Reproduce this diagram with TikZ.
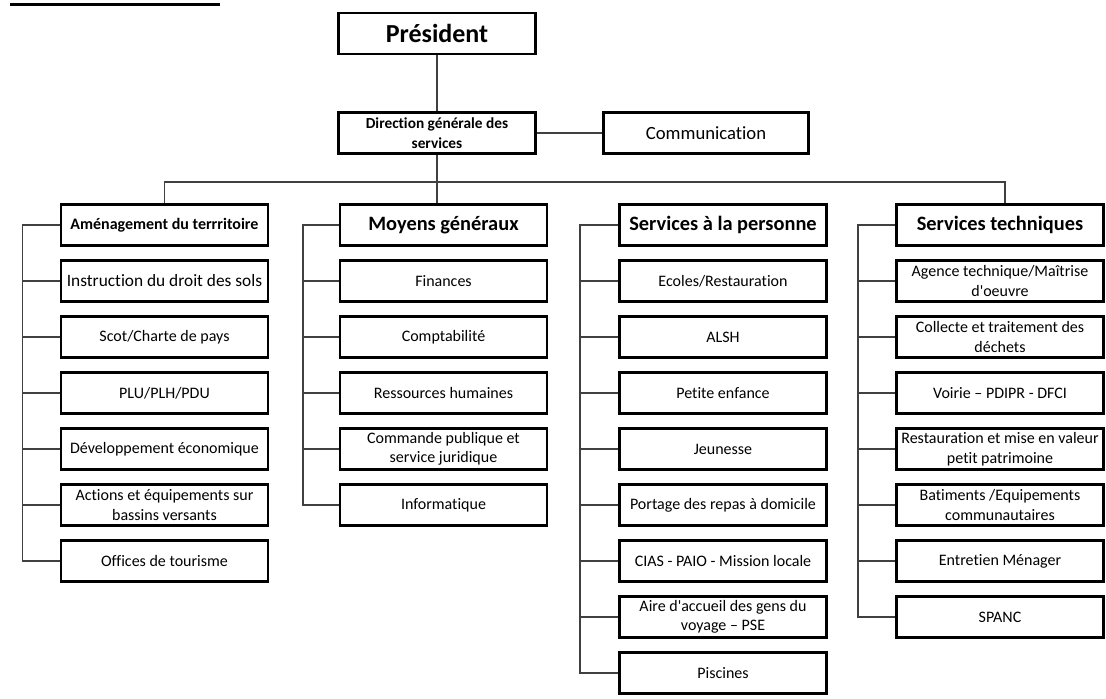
\documentclass[tikz,border=0pt]{standalone}
\usepackage{fontspec}
\setmainfont{Carlito}[Ligatures=NoCommon]
\usepackage{tikz}

\begin{document}
\begin{tikzpicture}[x=0.75pt,y=0.75pt,yscale=-1,xscale=1,
	box/.style={draw, line width=1.8pt, minimum width=155pt, minimum height=30.5pt, inner sep=1pt, align=center, font=\fontsize{12}{14.6}\selectfont},
	headbox/.style={box, font=\fontsize{15.3}{18}\selectfont\bfseries},
	link/.style={draw=black!75, line width=0.8pt}]
	\useasboundingbox (0,0) rectangle (1106,699);
	
	%Straight Lines: title underline (title cut off above)
	\draw [line width=1.8pt] (10,4.5) -- (220,4.5) ;
	
	% Text Node
	\node (pres) at (437,33.5) [box, minimum width=148pt, font=\fontsize{19.5}{23}\selectfont\bfseries] {Président};
	% Text Node
	\node (dgs) at (437,133) [box, minimum width=148pt, font=\fontsize{11.5}{15}\selectfont\bfseries] {Direction générale des\\services};
	% Text Node
	\node (comm) at (706,133) [box, minimum width=154pt, font=\fontsize{14}{17}\selectfont] {Communication};
	
	% Text Node: Aménagement du territoire
	\node (amenag) at (164.5,225) [headbox, font=\fontsize{12}{14.6}\selectfont\bfseries] {Aménagement du terrritoire};
	\node (droitsols) at (164.5,281) [box, font=\fontsize{13}{15.6}\selectfont] {Instruction du droit des sols};
	\node (scot) at (164.5,337) [box] {Scot/Charte de pays};
	\node (plu) at (164.5,393) [box] {PLU/PLH/PDU};
	\node (deveco) at (164.5,449) [box] {Développement économique};
	\node (bassins) at (164.5,505) [box] {Actions et équipements sur\\bassins versants};
	\node (tourisme) at (164.5,561) [box] {Offices de tourisme};
	
	% Text Node: Moyens généraux
	\node (moyens) at (443.5,225) [headbox] {Moyens généraux};
	\node (finances) at (443.5,281) [box] {Finances};
	\node (compta) at (443.5,337) [box] {Comptabilité};
	\node (rh) at (443.5,393) [box] {Ressources humaines};
	\node (commande) at (443.5,449) [box] {Commande publique et\\service juridique};
	\node (info) at (443.5,505) [box] {Informatique};
	
	% Text Node: Services à la personne
	\node (personne) at (723,225) [headbox] {Services à la personne};
	\node (ecoles) at (723,281) [box] {Ecoles/Restauration};
	\node (alsh) at (723,337) [box] {ALSH};
	\node (enfance) at (723,393) [box] {Petite enfance};
	\node (jeunesse) at (723,449) [box] {Jeunesse};
	\node (portage) at (723,505) [box] {Portage des repas à domicile};
	\node (cias) at (723,561) [box] {CIAS - PAIO - Mission locale};
	\node (aire) at (723,617) [box] {Aire d\textquotesingle accueil des gens du\\voyage – PSE};
	\node (piscines) at (723,673) [box] {Piscines};
	
	% Text Node: Services techniques
	\node (techniques) at (1000,225) [headbox] {Services techniques};
	\node (agence) at (1000,281) [box] {Agence technique/Maîtrise\\d\textquotesingle oeuvre};
	\node (dechets) at (1000,337) [box] {Collecte et traitement des\\déchets};
	\node (voirie) at (1000,393) [box] {Voirie – PDIPR - DFCI};
	\node (patrimoine) at (1000,449) [box] {Restauration et mise en valeur\\petit patrimoine};
	\node (batiments) at (1000,505) [box] {Batiments /Equipements\\communautaires};
	\node (menager) at (1000,561) [box] {Entretien Ménager};
	\node (spanc) at (1000,617) [box] {SPANC};
	
	%Straight Lines: top of the chart
	\coordinate (bus) at (0,182);
	\draw [link] (pres) -- (dgs) ;
	\draw [link] (dgs) -- (comm) ;
	\draw [link] (dgs.south) -- (dgs.south |- moyens.north) ;
	\draw [link] (amenag.north) -- (amenag.north |- bus) -- ([xshift=3.75pt]techniques.north |- bus) -- ([xshift=3.75pt]techniques.north) ;
	
	%Straight Lines: Aménagement du territoire
	\coordinate (abus) at (22.7,0);
	\draw [link] (amenag.west) -- (amenag.west -| abus) -- (tourisme.west -| abus) -- (tourisme.west) ;
	\draw [link] (droitsols.west -| abus) -- (droitsols.west) ;
	\draw [link] (scot.west -| abus) -- (scot.west) ;
	\draw [link] (plu.west -| abus) -- (plu.west) ;
	\draw [link] (deveco.west -| abus) -- (deveco.west) ;
	\draw [link] (bassins.west -| abus) -- (bassins.west) ;
	
	%Straight Lines: Moyens généraux
	\coordinate (mbus) at (303,0);
	\draw [link] (moyens.west) -- (moyens.west -| mbus) -- (info.west -| mbus) -- (info.west) ;
	\draw [link] (finances.west -| mbus) -- (finances.west) ;
	\draw [link] (compta.west -| mbus) -- (compta.west) ;
	\draw [link] (rh.west -| mbus) -- (rh.west) ;
	\draw [link] (commande.west -| mbus) -- (commande.west) ;
	
	%Straight Lines: Services à la personne
	\coordinate (pbus) at (580,0);
	\draw [link] (personne.west) -- (personne.west -| pbus) -- (piscines.west -| pbus) -- (piscines.west) ;
	\draw [link] (ecoles.west -| pbus) -- (ecoles.west) ;
	\draw [link] (alsh.west -| pbus) -- (alsh.west) ;
	\draw [link] (enfance.west -| pbus) -- (enfance.west) ;
	\draw [link] (jeunesse.west -| pbus) -- (jeunesse.west) ;
	\draw [link] (portage.west -| pbus) -- (portage.west) ;
	\draw [link] (cias.west -| pbus) -- (cias.west) ;
	\draw [link] (aire.west -| pbus) -- (aire.west) ;
	
	%Straight Lines: Services techniques
	\coordinate (tbus) at (858,0);
	\draw [link] (techniques.west) -- (techniques.west -| tbus) -- (spanc.west -| tbus) -- (spanc.west) ;
	\draw [link] (agence.west -| tbus) -- (agence.west) ;
	\draw [link] (dechets.west -| tbus) -- (dechets.west) ;
	\draw [link] (voirie.west -| tbus) -- (voirie.west) ;
	\draw [link] (patrimoine.west -| tbus) -- (patrimoine.west) ;
	\draw [link] (batiments.west -| tbus) -- (batiments.west) ;
	\draw [link] (menager.west -| tbus) -- (menager.west) ;
	
\end{tikzpicture}
\end{document}
